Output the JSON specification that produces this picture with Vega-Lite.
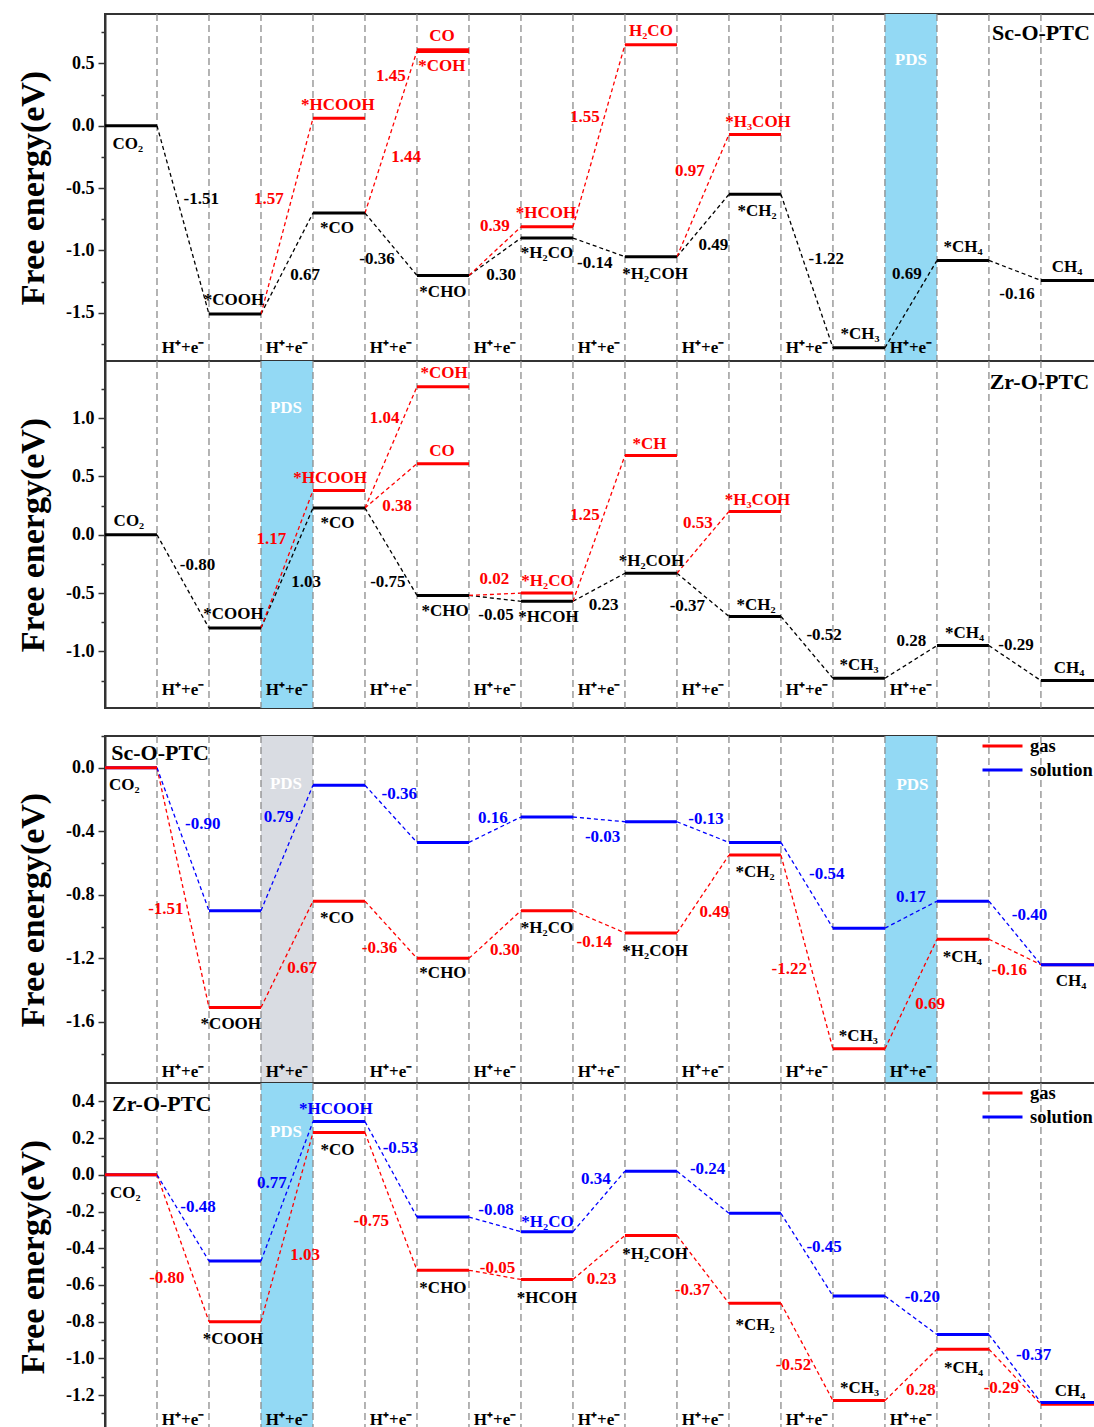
{
"$schema": "https://vega.github.io/schema/vega-lite/v6.json",
"background": "white",
"padding": {"left": 15, "top": 12, "right": 0, "bottom": 0},
"config": {
 "view": {"stroke": "#333333", "strokeWidth": 2},
 "axisY": {"title": "Free energy(eV)", "domainColor": "#333333", "domainWidth": 2, "tickColor": "#333333", "tickWidth": 1.5, "labelFont": "Liberation Serif", "labelFontSize": 18, "labelFontWeight": "bold", "labelColor": "#000000", "labelPadding": 4, "labelOverlap": false, "titleFont": "Liberation Serif", "titleFontSize": 34, "titleFontWeight": "bold", "titleColor": "#000000", "grid": false, "titleX": -62, "titleY": 173.5, "titleAngle": 270, "titleAlign": "center", "titleBaseline": "alphabetic"},
 "text": {"font": "Liberation Serif", "fontWeight": "bold", "fontSize": 17, "align": "center", "baseline": "middle", "color": "#000000"},
 "legend": {"labelFont": "Liberation Serif", "labelFontSize": 18.5, "labelFontWeight": "bold", "labelColor": "#000000", "symbolType": "stroke", "symbolSize": 1600, "symbolStrokeWidth": 3, "labelOffset": 6, "clipHeight": 20, "rowPadding": 4, "padding": 0, "orient": "none", "legendX": 876, "legendY": 0}
},
"datasets": {
 "grid": [{"g":1},{"g":2},{"g":3},{"g":4},{"g":5},{"g":6},{"g":7},{"g":8},{"g":9},{"g":10},{"g":11},{"g":12},{"g":13},{"g":14},{"g":15},{"g":16},{"g":17},{"g":18}],
 "hx": [{"x":1.5},{"x":3.5},{"x":5.5},{"x":7.5},{"x":9.5},{"x":11.5},{"x":13.5},{"x":15.5}],
 "bands": [
  {"p":1,"k":"blue","x0":15,"x1":16},
  {"p":2,"k":"blue","x0":3,"x1":4},
  {"p":3,"k":"grey","x0":3,"x1":4},
  {"p":3,"k":"blue","x0":15,"x1":16},
  {"p":4,"k":"blue","x0":3,"x1":4}
 ],
 "notes": [
  {"p":1,"k":"title","t":"Sc-O-PTC","x":18.0,"y":0.74},
  {"p":1,"k":"pds","t":"PDS","x":15.5,"y":0.53},
  {"p":2,"k":"title","t":"Zr-O-PTC","x":17.97,"y":1.314},
  {"p":2,"k":"pds","t":"PDS","x":3.48,"y":1.086},
  {"p":3,"k":"title","t":"Sc-O-PTC","x":1.06,"y":0.094},
  {"p":3,"k":"pds","t":"PDS","x":3.48,"y":-0.105},
  {"p":3,"k":"pds","t":"PDS","x":15.53,"y":-0.111},
  {"p":4,"k":"title","t":"Zr-O-PTC","x":1.09,"y":0.387},
  {"p":4,"k":"pds","t":"PDS","x":3.48,"y":0.234}
 ],
 "levels": [
  {"p":1,"s":"main","x0":0,"x1":1,"y":0},
  {"p":1,"s":"main","x0":2,"x1":3,"y":-1.51},
  {"p":1,"s":"main","x0":4,"x1":5,"y":-0.70},
  {"p":1,"s":"main","x0":6,"x1":7,"y":-1.20},
  {"p":1,"s":"main","x0":8,"x1":9,"y":-0.90},
  {"p":1,"s":"main","x0":10,"x1":11,"y":-1.05},
  {"p":1,"s":"main","x0":12,"x1":13,"y":-0.55},
  {"p":1,"s":"main","x0":14,"x1":15,"y":-1.78},
  {"p":1,"s":"main","x0":16,"x1":17,"y":-1.08},
  {"p":1,"s":"main","x0":18,"x1":19.04,"y":-1.24},
  {"p":1,"s":"alt","x0":4,"x1":5,"y":0.06},
  {"p":1,"s":"alt","x0":6,"x1":7,"y":0.61},
  {"p":1,"s":"alt","x0":6,"x1":7,"y":0.595},
  {"p":1,"s":"alt","x0":8,"x1":9,"y":-0.81},
  {"p":1,"s":"alt","x0":10,"x1":11,"y":0.65},
  {"p":1,"s":"alt","x0":12,"x1":13,"y":-0.07},
  {"p":2,"s":"main","x0":0,"x1":1,"y":0},
  {"p":2,"s":"main","x0":2,"x1":3,"y":-0.80},
  {"p":2,"s":"main","x0":4,"x1":5,"y":0.23},
  {"p":2,"s":"main","x0":6,"x1":7,"y":-0.52},
  {"p":2,"s":"main","x0":8,"x1":9,"y":-0.57},
  {"p":2,"s":"main","x0":10,"x1":11,"y":-0.33},
  {"p":2,"s":"main","x0":12,"x1":13,"y":-0.70},
  {"p":2,"s":"main","x0":14,"x1":15,"y":-1.23},
  {"p":2,"s":"main","x0":16,"x1":17,"y":-0.95},
  {"p":2,"s":"main","x0":18,"x1":19.04,"y":-1.25},
  {"p":2,"s":"alt","x0":4,"x1":5,"y":0.38},
  {"p":2,"s":"alt","x0":6,"x1":7,"y":1.27},
  {"p":2,"s":"alt","x0":6,"x1":7,"y":0.61},
  {"p":2,"s":"alt","x0":8,"x1":9,"y":-0.50},
  {"p":2,"s":"alt","x0":10,"x1":11,"y":0.68},
  {"p":2,"s":"alt","x0":12,"x1":13,"y":0.20},
  {"p":3,"s":"solution","x0":0,"x1":1,"y":0},
  {"p":3,"s":"gas","x0":0,"x1":1,"y":0},
  {"p":3,"s":"gas","x0":2,"x1":3,"y":-1.51},
  {"p":3,"s":"gas","x0":4,"x1":5,"y":-0.84},
  {"p":3,"s":"gas","x0":6,"x1":7,"y":-1.20},
  {"p":3,"s":"gas","x0":8,"x1":9,"y":-0.90},
  {"p":3,"s":"gas","x0":10,"x1":11,"y":-1.04},
  {"p":3,"s":"gas","x0":12,"x1":13,"y":-0.55},
  {"p":3,"s":"gas","x0":14,"x1":15,"y":-1.77},
  {"p":3,"s":"gas","x0":16,"x1":17,"y":-1.08},
  {"p":3,"s":"gas","x0":18,"x1":19.04,"y":-1.24},
  {"p":3,"s":"solution","x0":2,"x1":3,"y":-0.90},
  {"p":3,"s":"solution","x0":4,"x1":5,"y":-0.11},
  {"p":3,"s":"solution","x0":6,"x1":7,"y":-0.47},
  {"p":3,"s":"solution","x0":8,"x1":9,"y":-0.31},
  {"p":3,"s":"solution","x0":10,"x1":11,"y":-0.34},
  {"p":3,"s":"solution","x0":12,"x1":13,"y":-0.47},
  {"p":3,"s":"solution","x0":14,"x1":15,"y":-1.01},
  {"p":3,"s":"solution","x0":16,"x1":17,"y":-0.84},
  {"p":3,"s":"solution","x0":18,"x1":19.04,"y":-1.24},
  {"p":4,"s":"solution","x0":0,"x1":1,"y":0},
  {"p":4,"s":"gas","x0":0,"x1":1,"y":0},
  {"p":4,"s":"gas","x0":2,"x1":3,"y":-0.80},
  {"p":4,"s":"gas","x0":4,"x1":5,"y":0.23},
  {"p":4,"s":"gas","x0":6,"x1":7,"y":-0.52},
  {"p":4,"s":"gas","x0":8,"x1":9,"y":-0.57},
  {"p":4,"s":"gas","x0":10,"x1":11,"y":-0.33},
  {"p":4,"s":"gas","x0":12,"x1":13,"y":-0.70},
  {"p":4,"s":"gas","x0":14,"x1":15,"y":-1.23},
  {"p":4,"s":"gas","x0":16,"x1":17,"y":-0.95},
  {"p":4,"s":"gas","x0":18,"x1":19.04,"y":-1.25},
  {"p":4,"s":"solution","x0":2,"x1":3,"y":-0.47},
  {"p":4,"s":"solution","x0":4,"x1":5,"y":0.29},
  {"p":4,"s":"solution","x0":6,"x1":7,"y":-0.23},
  {"p":4,"s":"solution","x0":8,"x1":9,"y":-0.31},
  {"p":4,"s":"solution","x0":10,"x1":11,"y":0.02},
  {"p":4,"s":"solution","x0":12,"x1":13,"y":-0.21},
  {"p":4,"s":"solution","x0":14,"x1":15,"y":-0.66},
  {"p":4,"s":"solution","x0":16,"x1":17,"y":-0.87},
  {"p":4,"s":"solution","x0":18,"x1":19.04,"y":-1.24}
 ],
 "steps": [
  {"p":1,"s":"main","xa":1,"ya":0,"xb":2,"yb":-1.51},
  {"p":1,"s":"main","xa":3,"ya":-1.51,"xb":4,"yb":-0.70},
  {"p":1,"s":"main","xa":5,"ya":-0.70,"xb":6,"yb":-1.20},
  {"p":1,"s":"main","xa":7,"ya":-1.20,"xb":8,"yb":-0.90},
  {"p":1,"s":"main","xa":9,"ya":-0.90,"xb":10,"yb":-1.05},
  {"p":1,"s":"main","xa":11,"ya":-1.05,"xb":12,"yb":-0.55},
  {"p":1,"s":"main","xa":13,"ya":-0.55,"xb":14,"yb":-1.78},
  {"p":1,"s":"main","xa":15,"ya":-1.78,"xb":16,"yb":-1.08},
  {"p":1,"s":"main","xa":17,"ya":-1.08,"xb":18,"yb":-1.24},
  {"p":1,"s":"alt","xa":3,"ya":-1.51,"xb":4,"yb":0.06},
  {"p":1,"s":"alt","xa":5,"ya":-0.70,"xb":6,"yb":0.60},
  {"p":1,"s":"alt","xa":7,"ya":-1.20,"xb":8,"yb":-0.81},
  {"p":1,"s":"alt","xa":9,"ya":-0.81,"xb":10,"yb":0.65},
  {"p":1,"s":"alt","xa":11,"ya":-1.05,"xb":12,"yb":-0.07},
  {"p":2,"s":"main","xa":1,"ya":0,"xb":2,"yb":-0.80},
  {"p":2,"s":"main","xa":3,"ya":-0.80,"xb":4,"yb":0.23},
  {"p":2,"s":"main","xa":5,"ya":0.23,"xb":6,"yb":-0.52},
  {"p":2,"s":"main","xa":7,"ya":-0.52,"xb":8,"yb":-0.57},
  {"p":2,"s":"main","xa":9,"ya":-0.57,"xb":10,"yb":-0.33},
  {"p":2,"s":"main","xa":11,"ya":-0.33,"xb":12,"yb":-0.70},
  {"p":2,"s":"main","xa":13,"ya":-0.70,"xb":14,"yb":-1.23},
  {"p":2,"s":"main","xa":15,"ya":-1.23,"xb":16,"yb":-0.95},
  {"p":2,"s":"main","xa":17,"ya":-0.95,"xb":18,"yb":-1.25},
  {"p":2,"s":"alt","xa":3,"ya":-0.80,"xb":4,"yb":0.38},
  {"p":2,"s":"alt","xa":5,"ya":0.23,"xb":6,"yb":1.27},
  {"p":2,"s":"alt","xa":5,"ya":0.23,"xb":6,"yb":0.61},
  {"p":2,"s":"alt","xa":7,"ya":-0.52,"xb":8,"yb":-0.50},
  {"p":2,"s":"alt","xa":9,"ya":-0.57,"xb":10,"yb":0.68},
  {"p":2,"s":"alt","xa":11,"ya":-0.33,"xb":12,"yb":0.20},
  {"p":3,"s":"gas","xa":1,"ya":0,"xb":2,"yb":-1.51},
  {"p":3,"s":"gas","xa":3,"ya":-1.51,"xb":4,"yb":-0.84},
  {"p":3,"s":"gas","xa":5,"ya":-0.84,"xb":6,"yb":-1.20},
  {"p":3,"s":"gas","xa":7,"ya":-1.20,"xb":8,"yb":-0.90},
  {"p":3,"s":"gas","xa":9,"ya":-0.90,"xb":10,"yb":-1.04},
  {"p":3,"s":"gas","xa":11,"ya":-1.04,"xb":12,"yb":-0.55},
  {"p":3,"s":"gas","xa":13,"ya":-0.55,"xb":14,"yb":-1.77},
  {"p":3,"s":"gas","xa":15,"ya":-1.77,"xb":16,"yb":-1.08},
  {"p":3,"s":"gas","xa":17,"ya":-1.08,"xb":18,"yb":-1.24},
  {"p":3,"s":"solution","xa":1,"ya":0,"xb":2,"yb":-0.90},
  {"p":3,"s":"solution","xa":3,"ya":-0.90,"xb":4,"yb":-0.11},
  {"p":3,"s":"solution","xa":5,"ya":-0.11,"xb":6,"yb":-0.47},
  {"p":3,"s":"solution","xa":7,"ya":-0.47,"xb":8,"yb":-0.31},
  {"p":3,"s":"solution","xa":9,"ya":-0.31,"xb":10,"yb":-0.34},
  {"p":3,"s":"solution","xa":11,"ya":-0.34,"xb":12,"yb":-0.47},
  {"p":3,"s":"solution","xa":13,"ya":-0.47,"xb":14,"yb":-1.01},
  {"p":3,"s":"solution","xa":15,"ya":-1.01,"xb":16,"yb":-0.84},
  {"p":3,"s":"solution","xa":17,"ya":-0.84,"xb":18,"yb":-1.24},
  {"p":4,"s":"gas","xa":1,"ya":0,"xb":2,"yb":-0.80},
  {"p":4,"s":"gas","xa":3,"ya":-0.80,"xb":4,"yb":0.23},
  {"p":4,"s":"gas","xa":5,"ya":0.23,"xb":6,"yb":-0.52},
  {"p":4,"s":"gas","xa":7,"ya":-0.52,"xb":8,"yb":-0.57},
  {"p":4,"s":"gas","xa":9,"ya":-0.57,"xb":10,"yb":-0.33},
  {"p":4,"s":"gas","xa":11,"ya":-0.33,"xb":12,"yb":-0.70},
  {"p":4,"s":"gas","xa":13,"ya":-0.70,"xb":14,"yb":-1.23},
  {"p":4,"s":"gas","xa":15,"ya":-1.23,"xb":16,"yb":-0.95},
  {"p":4,"s":"gas","xa":17,"ya":-0.95,"xb":18,"yb":-1.25},
  {"p":4,"s":"solution","xa":1,"ya":0,"xb":2,"yb":-0.47},
  {"p":4,"s":"solution","xa":3,"ya":-0.47,"xb":4,"yb":0.29},
  {"p":4,"s":"solution","xa":5,"ya":0.29,"xb":6,"yb":-0.23},
  {"p":4,"s":"solution","xa":7,"ya":-0.23,"xb":8,"yb":-0.31},
  {"p":4,"s":"solution","xa":9,"ya":-0.31,"xb":10,"yb":0.02},
  {"p":4,"s":"solution","xa":11,"ya":0.02,"xb":12,"yb":-0.21},
  {"p":4,"s":"solution","xa":13,"ya":-0.21,"xb":14,"yb":-0.66},
  {"p":4,"s":"solution","xa":15,"ya":-0.66,"xb":16,"yb":-0.87},
  {"p":4,"s":"solution","xa":17,"ya":-0.87,"xb":18,"yb":-1.24}
 ],
 "labels": [
  {"p":1,"s":"main","t":"CO₂","x":0.44,"y":-0.145},
  {"p":1,"s":"main","t":"-1.51","x":1.85,"y":-0.59},
  {"p":1,"s":"alt","t":"1.57","x":3.15,"y":-0.59},
  {"p":1,"s":"main","t":"0.67","x":3.85,"y":-1.2},
  {"p":1,"s":"main","t":"*COOH","x":2.48,"y":-1.4},
  {"p":1,"s":"alt","t":"*HCOOH","x":4.48,"y":0.17},
  {"p":1,"s":"main","t":"*CO","x":4.46,"y":-0.82},
  {"p":1,"s":"alt","t":"1.45","x":5.5,"y":0.395},
  {"p":1,"s":"alt","t":"1.44","x":5.79,"y":-0.25},
  {"p":1,"s":"main","t":"-0.36","x":5.23,"y":-1.07},
  {"p":1,"s":"alt","t":"CO","x":6.48,"y":0.72},
  {"p":1,"s":"alt","t":"*COH","x":6.48,"y":0.476},
  {"p":1,"s":"main","t":"*CHO","x":6.5,"y":-1.33},
  {"p":1,"s":"alt","t":"0.39","x":7.5,"y":-0.8},
  {"p":1,"s":"main","t":"0.30","x":7.62,"y":-1.2},
  {"p":1,"s":"alt","t":"*HCOH","x":8.48,"y":-0.7},
  {"p":1,"s":"main","t":"*H₂CO","x":8.5,"y":-1.02},
  {"p":1,"s":"alt","t":"1.55","x":9.23,"y":0.07},
  {"p":1,"s":"main","t":"-0.14","x":9.42,"y":-1.1},
  {"p":1,"s":"alt","t":"H₂CO","x":10.5,"y":0.76},
  {"p":1,"s":"main","t":"*H₂COH","x":10.58,"y":-1.185},
  {"p":1,"s":"alt","t":"0.97","x":11.25,"y":-0.36},
  {"p":1,"s":"main","t":"0.49","x":11.7,"y":-0.96},
  {"p":1,"s":"alt","t":"*H₃COH","x":12.56,"y":0.03},
  {"p":1,"s":"main","t":"*CH₂","x":12.54,"y":-0.68},
  {"p":1,"s":"main","t":"-1.22","x":13.87,"y":-1.065},
  {"p":1,"s":"main","t":"*CH₃","x":14.52,"y":-1.67},
  {"p":1,"s":"main","t":"0.69","x":15.42,"y":-1.19},
  {"p":1,"s":"main","t":"*CH₄","x":16.5,"y":-0.97},
  {"p":1,"s":"main","t":"-0.16","x":17.54,"y":-1.35},
  {"p":1,"s":"main","t":"CH₄","x":18.5,"y":-1.13},
  {"p":2,"s":"main","t":"CO₂","x":0.46,"y":0.115},
  {"p":2,"s":"main","t":"-0.80","x":1.78,"y":-0.257},
  {"p":2,"s":"main","t":"*COOH","x":2.47,"y":-0.68},
  {"p":2,"s":"alt","t":"1.17","x":3.2,"y":-0.04},
  {"p":2,"s":"main","t":"1.03","x":3.87,"y":-0.405},
  {"p":2,"s":"alt","t":"*HCOOH","x":4.33,"y":0.486},
  {"p":2,"s":"main","t":"*CO","x":4.47,"y":0.098},
  {"p":2,"s":"alt","t":"1.04","x":5.38,"y":1.0},
  {"p":2,"s":"alt","t":"0.38","x":5.62,"y":0.243},
  {"p":2,"s":"main","t":"-0.75","x":5.44,"y":-0.405},
  {"p":2,"s":"alt","t":"*COH","x":6.52,"y":1.386},
  {"p":2,"s":"alt","t":"CO","x":6.48,"y":0.717},
  {"p":2,"s":"main","t":"*CHO","x":6.54,"y":-0.655},
  {"p":2,"s":"alt","t":"0.02","x":7.49,"y":-0.38},
  {"p":2,"s":"main","t":"-0.05","x":7.52,"y":-0.686},
  {"p":2,"s":"alt","t":"*H₂CO","x":8.51,"y":-0.394},
  {"p":2,"s":"main","t":"*HCOH","x":8.53,"y":-0.708},
  {"p":2,"s":"alt","t":"1.25","x":9.23,"y":0.166},
  {"p":2,"s":"main","t":"0.23","x":9.59,"y":-0.6},
  {"p":2,"s":"alt","t":"*CH","x":10.47,"y":0.777},
  {"p":2,"s":"main","t":"*H₂COH","x":10.51,"y":-0.223},
  {"p":2,"s":"alt","t":"0.53","x":11.4,"y":0.1},
  {"p":2,"s":"main","t":"-0.37","x":11.2,"y":-0.614},
  {"p":2,"s":"alt","t":"*H₃COH","x":12.55,"y":0.3},
  {"p":2,"s":"main","t":"*CH₂","x":12.52,"y":-0.605},
  {"p":2,"s":"main","t":"-0.52","x":13.83,"y":-0.857},
  {"p":2,"s":"main","t":"*CH₃","x":14.5,"y":-1.114},
  {"p":2,"s":"main","t":"0.28","x":15.51,"y":-0.914},
  {"p":2,"s":"main","t":"*CH₄","x":16.53,"y":-0.842},
  {"p":2,"s":"main","t":"-0.29","x":17.52,"y":-0.948},
  {"p":2,"s":"main","t":"CH₄","x":18.54,"y":-1.142},
  {"p":3,"s":"none","t":"CO₂","x":0.37,"y":-0.11},
  {"p":3,"s":"solution","t":"-0.90","x":1.88,"y":-0.357},
  {"p":3,"s":"gas","t":"-1.51","x":1.17,"y":-0.89},
  {"p":3,"s":"none","t":"*COOH","x":2.42,"y":-1.614},
  {"p":3,"s":"solution","t":"0.79","x":3.34,"y":-0.308},
  {"p":3,"s":"gas","t":"0.67","x":3.79,"y":-1.264},
  {"p":3,"s":"none","t":"*CO","x":4.46,"y":-0.948},
  {"p":3,"s":"solution","t":"-0.36","x":5.66,"y":-0.168},
  {"p":3,"s":"gas","t":"-0.36","x":5.28,"y":-1.137},
  {"p":3,"s":"none","t":"*CHO","x":6.5,"y":-1.294},
  {"p":3,"s":"solution","t":"0.16","x":7.46,"y":-0.314},
  {"p":3,"s":"gas","t":"0.30","x":7.69,"y":-1.147},
  {"p":3,"s":"none","t":"*H₂CO","x":8.5,"y":-1.006},
  {"p":3,"s":"solution","t":"-0.03","x":9.57,"y":-0.434},
  {"p":3,"s":"gas","t":"-0.14","x":9.41,"y":-1.097},
  {"p":3,"s":"none","t":"*H₂COH","x":10.58,"y":-1.153},
  {"p":3,"s":"solution","t":"-0.13","x":11.56,"y":-0.321},
  {"p":3,"s":"gas","t":"0.49","x":11.72,"y":-0.908},
  {"p":3,"s":"none","t":"*CH₂","x":12.5,"y":-0.657},
  {"p":3,"s":"solution","t":"-0.54","x":13.88,"y":-0.671},
  {"p":3,"s":"gas","t":"-1.22","x":13.16,"y":-1.269},
  {"p":3,"s":"none","t":"*CH₃","x":14.49,"y":-1.692},
  {"p":3,"s":"solution","t":"0.17","x":15.5,"y":-0.811},
  {"p":3,"s":"gas","t":"0.69","x":15.87,"y":-1.489},
  {"p":3,"s":"none","t":"*CH₄","x":16.49,"y":-1.189},
  {"p":3,"s":"solution","t":"-0.40","x":17.78,"y":-0.929},
  {"p":3,"s":"gas","t":"-0.16","x":17.39,"y":-1.273},
  {"p":3,"s":"none","t":"CH₄","x":18.58,"y":-1.342},
  {"p":4,"s":"none","t":"CO₂","x":0.39,"y":-0.1},
  {"p":4,"s":"solution","t":"-0.48","x":1.79,"y":-0.174},
  {"p":4,"s":"gas","t":"-0.80","x":1.19,"y":-0.56},
  {"p":4,"s":"none","t":"*COOH","x":2.46,"y":-0.895},
  {"p":4,"s":"solution","t":"0.77","x":3.21,"y":-0.042},
  {"p":4,"s":"gas","t":"1.03","x":3.85,"y":-0.437},
  {"p":4,"s":"solution","t":"*HCOOH","x":4.44,"y":0.356},
  {"p":4,"s":"none","t":"*CO","x":4.47,"y":0.134},
  {"p":4,"s":"solution","t":"-0.53","x":5.68,"y":0.147},
  {"p":4,"s":"gas","t":"-0.75","x":5.12,"y":-0.252},
  {"p":4,"s":"none","t":"*CHO","x":6.5,"y":-0.618},
  {"p":4,"s":"solution","t":"-0.08","x":7.52,"y":-0.192},
  {"p":4,"s":"gas","t":"-0.05","x":7.55,"y":-0.509},
  {"p":4,"s":"solution","t":"*H₂CO","x":8.51,"y":-0.259},
  {"p":4,"s":"none","t":"*HCOH","x":8.5,"y":-0.672},
  {"p":4,"s":"solution","t":"0.34","x":9.44,"y":-0.024},
  {"p":4,"s":"gas","t":"0.23","x":9.55,"y":-0.567},
  {"p":4,"s":"none","t":"*H₂COH","x":10.58,"y":-0.433},
  {"p":4,"s":"solution","t":"-0.24","x":11.59,"y":0.034},
  {"p":4,"s":"gas","t":"-0.37","x":11.3,"y":-0.627},
  {"p":4,"s":"none","t":"*CH₂","x":12.5,"y":-0.817},
  {"p":4,"s":"solution","t":"-0.45","x":13.83,"y":-0.391},
  {"p":4,"s":"gas","t":"-0.52","x":13.24,"y":-1.037},
  {"p":4,"s":"none","t":"*CH₃","x":14.51,"y":-1.161},
  {"p":4,"s":"solution","t":"-0.20","x":15.72,"y":-0.668},
  {"p":4,"s":"gas","t":"0.28","x":15.69,"y":-1.17},
  {"p":4,"s":"none","t":"*CH₄","x":16.51,"y":-1.052},
  {"p":4,"s":"solution","t":"-0.37","x":17.86,"y":-0.983},
  {"p":4,"s":"gas","t":"-0.29","x":17.24,"y":-1.161},
  {"p":4,"s":"none","t":"CH₄","x":18.56,"y":-1.179}
 ]
},
"spacing": 16,
"resolve": {"scale": {"color": "independent", "fill": "independent", "stroke": "independent"}},
"vconcat": [
 {"spacing": 0, "bounds": "flush",
  "resolve": {"scale": {"color": "independent", "fill": "independent", "stroke": "independent"}},
  "vconcat": [
  {"width": 990, "height": 347,
   "layer": [
    {"data": {"name": "bands"}, "transform": [{"filter": "datum.p==1"}], "mark": "rect",
     "encoding": {"x": {"field": "x0", "type": "quantitative", "scale": {"domain": [0, 19.04], "nice": false, "zero": false}, "axis": null}, "x2": {"field": "x1"},
      "color": {"field": "k", "type": "nominal", "scale": {"domain": ["blue", "grey"], "range": ["#93d9f4", "#d9dce2"]}, "legend": null}}},
    {"data": {"name": "grid"}, "mark": {"type": "rule", "color": "#8c8c8c", "strokeDash": [7, 4], "strokeWidth": 1.3},
     "encoding": {"x": {"field": "g", "type": "quantitative", "scale": {"domain": [0, 19.04], "nice": false, "zero": false}, "axis": null}}},
    {"data": {"name": "steps"}, "transform": [{"filter": "datum.p==1"}], "mark": {"type": "rule", "strokeDash": [4, 3], "strokeWidth": 1.3},
     "encoding": {"x": {"field": "xa", "type": "quantitative", "scale": {"domain": [0, 19.04], "nice": false, "zero": false}, "axis": null}, "x2": {"field": "xb"},
      "y": {"field": "ya", "type": "quantitative", "scale": {"domain": [-1.886, 0.896], "nice": false, "zero": false},
       "axis": {"title": "Free energy(eV)", "values": [-1.75, -1.5, -1.25, -1, -0.75, -0.5, -0.25, 0, 0.25, 0.5, 0.75],
        "labelExpr": "abs(datum.value*2-round(datum.value*2))<0.01 ? replace(format(datum.value,'.1f'),'−','-') : ''",
        "tickSize": {"condition": {"test": "abs(datum.value*2-round(datum.value*2))<0.01", "value": 7}, "value": 4}}},
      "y2": {"field": "yb"},
      "stroke": {"field": "s", "type": "nominal", "scale": {"domain": ["main", "alt"], "range": ["#000000", "#ff0000"]}, "legend": null}}},
    {"data": {"name": "levels"}, "transform": [{"filter": "datum.p==1"}], "mark": {"type": "rule", "strokeWidth": 3},
     "encoding": {"x": {"field": "x0", "type": "quantitative", "scale": {"domain": [0, 19.04], "nice": false, "zero": false}, "axis": null}, "x2": {"field": "x1"},
      "y": {"field": "y", "type": "quantitative", "scale": {"domain": [-1.886, 0.896], "nice": false, "zero": false},
       "axis": {"title": "Free energy(eV)", "values": [-1.75, -1.5, -1.25, -1, -0.75, -0.5, -0.25, 0, 0.25, 0.5, 0.75],
        "labelExpr": "abs(datum.value*2-round(datum.value*2))<0.01 ? replace(format(datum.value,'.1f'),'−','-') : ''",
        "tickSize": {"condition": {"test": "abs(datum.value*2-round(datum.value*2))<0.01", "value": 7}, "value": 4}}},
      "stroke": {"field": "s", "type": "nominal", "scale": {"domain": ["main", "alt"], "range": ["#000000", "#ff0000"]}, "legend": null}}},
    {"data": {"name": "labels"}, "transform": [{"filter": "datum.p==1"}], "mark": "text",
     "encoding": {"x": {"field": "x", "type": "quantitative", "scale": {"domain": [0, 19.04], "nice": false, "zero": false}, "axis": null},
      "y": {"field": "y", "type": "quantitative", "scale": {"domain": [-1.886, 0.896], "nice": false, "zero": false},
       "axis": {"title": "Free energy(eV)", "values": [-1.75, -1.5, -1.25, -1, -0.75, -0.5, -0.25, 0, 0.25, 0.5, 0.75],
        "labelExpr": "abs(datum.value*2-round(datum.value*2))<0.01 ? replace(format(datum.value,'.1f'),'−','-') : ''",
        "tickSize": {"condition": {"test": "abs(datum.value*2-round(datum.value*2))<0.01", "value": 7}, "value": 4}}},
      "text": {"field": "t"},
      "fill": {"field": "s", "type": "nominal", "scale": {"domain": ["main", "alt"], "range": ["#000000", "#ff0000"]}, "legend": null}}},
    {"data": {"name": "hx"}, "mark": "text",
     "encoding": {"x": {"field": "x", "type": "quantitative", "scale": {"domain": [0, 19.04], "nice": false, "zero": false}, "axis": null},
      "y": {"datum": -1.78, "type": "quantitative", "scale": {"domain": [-1.886, 0.896], "nice": false, "zero": false},
       "axis": {"title": "Free energy(eV)", "values": [-1.75, -1.5, -1.25, -1, -0.75, -0.5, -0.25, 0, 0.25, 0.5, 0.75],
        "labelExpr": "abs(datum.value*2-round(datum.value*2))<0.01 ? replace(format(datum.value,'.1f'),'−','-') : ''",
        "tickSize": {"condition": {"test": "abs(datum.value*2-round(datum.value*2))<0.01", "value": 7}, "value": 4}}},
      "text": {"value": "H⁺+e⁻"}}},
    {"data": {"name": "notes"}, "transform": [{"filter": "datum.p==1 && datum.k=='title'"}], "mark": {"type": "text", "fontSize": 22},
     "encoding": {"x": {"field": "x", "type": "quantitative", "scale": {"domain": [0, 19.04], "nice": false, "zero": false}, "axis": null},
      "y": {"field": "y", "type": "quantitative", "scale": {"domain": [-1.886, 0.896], "nice": false, "zero": false},
       "axis": {"title": "Free energy(eV)", "values": [-1.75, -1.5, -1.25, -1, -0.75, -0.5, -0.25, 0, 0.25, 0.5, 0.75],
        "labelExpr": "abs(datum.value*2-round(datum.value*2))<0.01 ? replace(format(datum.value,'.1f'),'−','-') : ''",
        "tickSize": {"condition": {"test": "abs(datum.value*2-round(datum.value*2))<0.01", "value": 7}, "value": 4}}},
      "text": {"field": "t"}}},
    {"data": {"name": "notes"}, "transform": [{"filter": "datum.p==1 && datum.k=='pds'"}], "mark": {"type": "text", "color": "#ffffff"},
     "encoding": {"x": {"field": "x", "type": "quantitative", "scale": {"domain": [0, 19.04], "nice": false, "zero": false}, "axis": null},
      "y": {"field": "y", "type": "quantitative", "scale": {"domain": [-1.886, 0.896], "nice": false, "zero": false},
       "axis": {"title": "Free energy(eV)", "values": [-1.75, -1.5, -1.25, -1, -0.75, -0.5, -0.25, 0, 0.25, 0.5, 0.75],
        "labelExpr": "abs(datum.value*2-round(datum.value*2))<0.01 ? replace(format(datum.value,'.1f'),'−','-') : ''",
        "tickSize": {"condition": {"test": "abs(datum.value*2-round(datum.value*2))<0.01", "value": 7}, "value": 4}}},
      "text": {"field": "t"}}}
   ]},
  {"width": 990, "height": 347,
   "layer": [
    {"data": {"name": "bands"}, "transform": [{"filter": "datum.p==2"}], "mark": "rect",
     "encoding": {"x": {"field": "x0", "type": "quantitative", "scale": {"domain": [0, 19.04], "nice": false, "zero": false}, "axis": null}, "x2": {"field": "x1"},
      "color": {"field": "k", "type": "nominal", "scale": {"domain": ["blue", "grey"], "range": ["#93d9f4", "#d9dce2"]}, "legend": null}}},
    {"data": {"name": "grid"}, "mark": {"type": "rule", "color": "#8c8c8c", "strokeDash": [7, 4], "strokeWidth": 1.3},
     "encoding": {"x": {"field": "g", "type": "quantitative", "scale": {"domain": [0, 19.04], "nice": false, "zero": false}, "axis": null}}},
    {"data": {"name": "steps"}, "transform": [{"filter": "datum.p==2"}], "mark": {"type": "rule", "strokeDash": [4, 3], "strokeWidth": 1.3},
     "encoding": {"x": {"field": "xa", "type": "quantitative", "scale": {"domain": [0, 19.04], "nice": false, "zero": false}, "axis": null}, "x2": {"field": "xb"},
      "y": {"field": "ya", "type": "quantitative", "scale": {"domain": [-1.485, 1.49], "nice": false, "zero": false},
       "axis": {"title": "Free energy(eV)", "values": [-1.25, -1, -0.75, -0.5, -0.25, 0, 0.25, 0.5, 0.75, 1, 1.25],
        "labelExpr": "abs(datum.value*2-round(datum.value*2))<0.01 ? replace(format(datum.value,'.1f'),'−','-') : ''",
        "tickSize": {"condition": {"test": "abs(datum.value*2-round(datum.value*2))<0.01", "value": 7}, "value": 4}}},
      "y2": {"field": "yb"},
      "stroke": {"field": "s", "type": "nominal", "scale": {"domain": ["main", "alt"], "range": ["#000000", "#ff0000"]}, "legend": null}}},
    {"data": {"name": "levels"}, "transform": [{"filter": "datum.p==2"}], "mark": {"type": "rule", "strokeWidth": 3},
     "encoding": {"x": {"field": "x0", "type": "quantitative", "scale": {"domain": [0, 19.04], "nice": false, "zero": false}, "axis": null}, "x2": {"field": "x1"},
      "y": {"field": "y", "type": "quantitative", "scale": {"domain": [-1.485, 1.49], "nice": false, "zero": false},
       "axis": {"title": "Free energy(eV)", "values": [-1.25, -1, -0.75, -0.5, -0.25, 0, 0.25, 0.5, 0.75, 1, 1.25],
        "labelExpr": "abs(datum.value*2-round(datum.value*2))<0.01 ? replace(format(datum.value,'.1f'),'−','-') : ''",
        "tickSize": {"condition": {"test": "abs(datum.value*2-round(datum.value*2))<0.01", "value": 7}, "value": 4}}},
      "stroke": {"field": "s", "type": "nominal", "scale": {"domain": ["main", "alt"], "range": ["#000000", "#ff0000"]}, "legend": null}}},
    {"data": {"name": "labels"}, "transform": [{"filter": "datum.p==2"}], "mark": "text",
     "encoding": {"x": {"field": "x", "type": "quantitative", "scale": {"domain": [0, 19.04], "nice": false, "zero": false}, "axis": null},
      "y": {"field": "y", "type": "quantitative", "scale": {"domain": [-1.485, 1.49], "nice": false, "zero": false},
       "axis": {"title": "Free energy(eV)", "values": [-1.25, -1, -0.75, -0.5, -0.25, 0, 0.25, 0.5, 0.75, 1, 1.25],
        "labelExpr": "abs(datum.value*2-round(datum.value*2))<0.01 ? replace(format(datum.value,'.1f'),'−','-') : ''",
        "tickSize": {"condition": {"test": "abs(datum.value*2-round(datum.value*2))<0.01", "value": 7}, "value": 4}}},
      "text": {"field": "t"},
      "fill": {"field": "s", "type": "nominal", "scale": {"domain": ["main", "alt"], "range": ["#000000", "#ff0000"]}, "legend": null}}},
    {"data": {"name": "hx"}, "mark": "text",
     "encoding": {"x": {"field": "x", "type": "quantitative", "scale": {"domain": [0, 19.04], "nice": false, "zero": false}, "axis": null},
      "y": {"datum": -1.328, "type": "quantitative", "scale": {"domain": [-1.485, 1.49], "nice": false, "zero": false},
       "axis": {"title": "Free energy(eV)", "values": [-1.25, -1, -0.75, -0.5, -0.25, 0, 0.25, 0.5, 0.75, 1, 1.25],
        "labelExpr": "abs(datum.value*2-round(datum.value*2))<0.01 ? replace(format(datum.value,'.1f'),'−','-') : ''",
        "tickSize": {"condition": {"test": "abs(datum.value*2-round(datum.value*2))<0.01", "value": 7}, "value": 4}}},
      "text": {"value": "H⁺+e⁻"}}},
    {"data": {"name": "notes"}, "transform": [{"filter": "datum.p==2 && datum.k=='title'"}], "mark": {"type": "text", "fontSize": 22},
     "encoding": {"x": {"field": "x", "type": "quantitative", "scale": {"domain": [0, 19.04], "nice": false, "zero": false}, "axis": null},
      "y": {"field": "y", "type": "quantitative", "scale": {"domain": [-1.485, 1.49], "nice": false, "zero": false},
       "axis": {"title": "Free energy(eV)", "values": [-1.25, -1, -0.75, -0.5, -0.25, 0, 0.25, 0.5, 0.75, 1, 1.25],
        "labelExpr": "abs(datum.value*2-round(datum.value*2))<0.01 ? replace(format(datum.value,'.1f'),'−','-') : ''",
        "tickSize": {"condition": {"test": "abs(datum.value*2-round(datum.value*2))<0.01", "value": 7}, "value": 4}}},
      "text": {"field": "t"}}},
    {"data": {"name": "notes"}, "transform": [{"filter": "datum.p==2 && datum.k=='pds'"}], "mark": {"type": "text", "color": "#ffffff"},
     "encoding": {"x": {"field": "x", "type": "quantitative", "scale": {"domain": [0, 19.04], "nice": false, "zero": false}, "axis": null},
      "y": {"field": "y", "type": "quantitative", "scale": {"domain": [-1.485, 1.49], "nice": false, "zero": false},
       "axis": {"title": "Free energy(eV)", "values": [-1.25, -1, -0.75, -0.5, -0.25, 0, 0.25, 0.5, 0.75, 1, 1.25],
        "labelExpr": "abs(datum.value*2-round(datum.value*2))<0.01 ? replace(format(datum.value,'.1f'),'−','-') : ''",
        "tickSize": {"condition": {"test": "abs(datum.value*2-round(datum.value*2))<0.01", "value": 7}, "value": 4}}},
      "text": {"field": "t"}}}
   ]}
 ]},
 {"spacing": 0, "bounds": "flush",
  "resolve": {"scale": {"color": "independent", "fill": "independent", "stroke": "independent"}},
  "vconcat": [
  {"width": 990, "height": 347,
   "layer": [
    {"data": {"name": "bands"}, "transform": [{"filter": "datum.p==3"}], "mark": "rect",
     "encoding": {"x": {"field": "x0", "type": "quantitative", "scale": {"domain": [0, 19.04], "nice": false, "zero": false}, "axis": null}, "x2": {"field": "x1"},
      "color": {"field": "k", "type": "nominal", "scale": {"domain": ["blue", "grey"], "range": ["#93d9f4", "#d9dce2"]}, "legend": null}}},
    {"data": {"name": "grid"}, "mark": {"type": "rule", "color": "#8c8c8c", "strokeDash": [7, 4], "strokeWidth": 1.3},
     "encoding": {"x": {"field": "g", "type": "quantitative", "scale": {"domain": [0, 19.04], "nice": false, "zero": false}, "axis": null}}},
    {"data": {"name": "steps"}, "transform": [{"filter": "datum.p==3"}], "mark": {"type": "rule", "strokeDash": [4, 3], "strokeWidth": 1.3},
     "encoding": {"x": {"field": "xa", "type": "quantitative", "scale": {"domain": [0, 19.04], "nice": false, "zero": false}, "axis": null}, "x2": {"field": "xb"},
      "y": {"field": "ya", "type": "quantitative", "scale": {"domain": [-1.985, 0.2], "nice": false, "zero": false},
       "axis": {"title": "Free energy(eV)", "values": [-1.8, -1.6, -1.4, -1.2, -1, -0.8, -0.6, -0.4, -0.2, 0, 0.2],
        "labelExpr": "abs(datum.value*2.5-round(datum.value*2.5))<0.01 ? replace(format(datum.value,'.1f'),'−','-') : ''",
        "tickSize": {"condition": {"test": "abs(datum.value*2.5-round(datum.value*2.5))<0.01", "value": 7}, "value": 4}}},
      "y2": {"field": "yb"},
      "stroke": {"field": "s", "type": "nominal", "scale": {"domain": ["gas", "solution", "none"], "range": ["#ff0000", "#0000ff", "#000000"]}, "legend": {"values": ["gas", "solution"], "title": null}}}},
    {"data": {"name": "levels"}, "transform": [{"filter": "datum.p==3"}], "mark": {"type": "rule", "strokeWidth": 3},
     "encoding": {"x": {"field": "x0", "type": "quantitative", "scale": {"domain": [0, 19.04], "nice": false, "zero": false}, "axis": null}, "x2": {"field": "x1"},
      "y": {"field": "y", "type": "quantitative", "scale": {"domain": [-1.985, 0.2], "nice": false, "zero": false},
       "axis": {"title": "Free energy(eV)", "values": [-1.8, -1.6, -1.4, -1.2, -1, -0.8, -0.6, -0.4, -0.2, 0, 0.2],
        "labelExpr": "abs(datum.value*2.5-round(datum.value*2.5))<0.01 ? replace(format(datum.value,'.1f'),'−','-') : ''",
        "tickSize": {"condition": {"test": "abs(datum.value*2.5-round(datum.value*2.5))<0.01", "value": 7}, "value": 4}}},
      "stroke": {"field": "s", "type": "nominal", "scale": {"domain": ["gas", "solution", "none"], "range": ["#ff0000", "#0000ff", "#000000"]}, "legend": {"values": ["gas", "solution"], "title": null}}}},
    {"data": {"name": "labels"}, "transform": [{"filter": "datum.p==3"}], "mark": "text",
     "encoding": {"x": {"field": "x", "type": "quantitative", "scale": {"domain": [0, 19.04], "nice": false, "zero": false}, "axis": null},
      "y": {"field": "y", "type": "quantitative", "scale": {"domain": [-1.985, 0.2], "nice": false, "zero": false},
       "axis": {"title": "Free energy(eV)", "values": [-1.8, -1.6, -1.4, -1.2, -1, -0.8, -0.6, -0.4, -0.2, 0, 0.2],
        "labelExpr": "abs(datum.value*2.5-round(datum.value*2.5))<0.01 ? replace(format(datum.value,'.1f'),'−','-') : ''",
        "tickSize": {"condition": {"test": "abs(datum.value*2.5-round(datum.value*2.5))<0.01", "value": 7}, "value": 4}}},
      "text": {"field": "t"},
      "fill": {"field": "s", "type": "nominal", "scale": {"domain": ["gas", "solution", "none"], "range": ["#ff0000", "#0000ff", "#000000"]}, "legend": null}}},
    {"data": {"name": "hx"}, "mark": "text",
     "encoding": {"x": {"field": "x", "type": "quantitative", "scale": {"domain": [0, 19.04], "nice": false, "zero": false}, "axis": null},
      "y": {"datum": -1.918, "type": "quantitative", "scale": {"domain": [-1.985, 0.2], "nice": false, "zero": false},
       "axis": {"title": "Free energy(eV)", "values": [-1.8, -1.6, -1.4, -1.2, -1, -0.8, -0.6, -0.4, -0.2, 0, 0.2],
        "labelExpr": "abs(datum.value*2.5-round(datum.value*2.5))<0.01 ? replace(format(datum.value,'.1f'),'−','-') : ''",
        "tickSize": {"condition": {"test": "abs(datum.value*2.5-round(datum.value*2.5))<0.01", "value": 7}, "value": 4}}},
      "text": {"value": "H⁺+e⁻"}}},
    {"data": {"name": "notes"}, "transform": [{"filter": "datum.p==3 && datum.k=='title'"}], "mark": {"type": "text", "fontSize": 22},
     "encoding": {"x": {"field": "x", "type": "quantitative", "scale": {"domain": [0, 19.04], "nice": false, "zero": false}, "axis": null},
      "y": {"field": "y", "type": "quantitative", "scale": {"domain": [-1.985, 0.2], "nice": false, "zero": false},
       "axis": {"title": "Free energy(eV)", "values": [-1.8, -1.6, -1.4, -1.2, -1, -0.8, -0.6, -0.4, -0.2, 0, 0.2],
        "labelExpr": "abs(datum.value*2.5-round(datum.value*2.5))<0.01 ? replace(format(datum.value,'.1f'),'−','-') : ''",
        "tickSize": {"condition": {"test": "abs(datum.value*2.5-round(datum.value*2.5))<0.01", "value": 7}, "value": 4}}},
      "text": {"field": "t"}}},
    {"data": {"name": "notes"}, "transform": [{"filter": "datum.p==3 && datum.k=='pds'"}], "mark": {"type": "text", "color": "#ffffff"},
     "encoding": {"x": {"field": "x", "type": "quantitative", "scale": {"domain": [0, 19.04], "nice": false, "zero": false}, "axis": null},
      "y": {"field": "y", "type": "quantitative", "scale": {"domain": [-1.985, 0.2], "nice": false, "zero": false},
       "axis": {"title": "Free energy(eV)", "values": [-1.8, -1.6, -1.4, -1.2, -1, -0.8, -0.6, -0.4, -0.2, 0, 0.2],
        "labelExpr": "abs(datum.value*2.5-round(datum.value*2.5))<0.01 ? replace(format(datum.value,'.1f'),'−','-') : ''",
        "tickSize": {"condition": {"test": "abs(datum.value*2.5-round(datum.value*2.5))<0.01", "value": 7}, "value": 4}}},
      "text": {"field": "t"}}}
   ]},
  {"width": 990, "height": 347,
   "layer": [
    {"data": {"name": "bands"}, "transform": [{"filter": "datum.p==4"}], "mark": "rect",
     "encoding": {"x": {"field": "x0", "type": "quantitative", "scale": {"domain": [0, 19.04], "nice": false, "zero": false}, "axis": null}, "x2": {"field": "x1"},
      "color": {"field": "k", "type": "nominal", "scale": {"domain": ["blue", "grey"], "range": ["#93d9f4", "#d9dce2"]}, "legend": null}}},
    {"data": {"name": "grid"}, "mark": {"type": "rule", "color": "#8c8c8c", "strokeDash": [7, 4], "strokeWidth": 1.3},
     "encoding": {"x": {"field": "g", "type": "quantitative", "scale": {"domain": [0, 19.04], "nice": false, "zero": false}, "axis": null}}},
    {"data": {"name": "steps"}, "transform": [{"filter": "datum.p==4"}], "mark": {"type": "rule", "strokeDash": [4, 3], "strokeWidth": 1.3},
     "encoding": {"x": {"field": "xa", "type": "quantitative", "scale": {"domain": [0, 19.04], "nice": false, "zero": false}, "axis": null}, "x2": {"field": "xb"},
      "y": {"field": "ya", "type": "quantitative", "scale": {"domain": [-1.39, 0.5], "nice": false, "zero": false},
       "axis": {"title": "Free energy(eV)", "values": [-1.3, -1.2, -1.1, -1, -0.9, -0.8, -0.7, -0.6, -0.5, -0.4, -0.3, -0.2, -0.1, 0, 0.1, 0.2, 0.3, 0.4],
        "labelExpr": "abs(datum.value*5-round(datum.value*5))<0.01 ? replace(format(datum.value,'.1f'),'−','-') : ''",
        "tickSize": {"condition": {"test": "abs(datum.value*5-round(datum.value*5))<0.01", "value": 7}, "value": 4}}},
      "y2": {"field": "yb"},
      "stroke": {"field": "s", "type": "nominal", "scale": {"domain": ["gas", "solution", "none"], "range": ["#ff0000", "#0000ff", "#000000"]}, "legend": {"values": ["gas", "solution"], "title": null}}}},
    {"data": {"name": "levels"}, "transform": [{"filter": "datum.p==4"}], "mark": {"type": "rule", "strokeWidth": 3},
     "encoding": {"x": {"field": "x0", "type": "quantitative", "scale": {"domain": [0, 19.04], "nice": false, "zero": false}, "axis": null}, "x2": {"field": "x1"},
      "y": {"field": "y", "type": "quantitative", "scale": {"domain": [-1.39, 0.5], "nice": false, "zero": false},
       "axis": {"title": "Free energy(eV)", "values": [-1.3, -1.2, -1.1, -1, -0.9, -0.8, -0.7, -0.6, -0.5, -0.4, -0.3, -0.2, -0.1, 0, 0.1, 0.2, 0.3, 0.4],
        "labelExpr": "abs(datum.value*5-round(datum.value*5))<0.01 ? replace(format(datum.value,'.1f'),'−','-') : ''",
        "tickSize": {"condition": {"test": "abs(datum.value*5-round(datum.value*5))<0.01", "value": 7}, "value": 4}}},
      "stroke": {"field": "s", "type": "nominal", "scale": {"domain": ["gas", "solution", "none"], "range": ["#ff0000", "#0000ff", "#000000"]}, "legend": {"values": ["gas", "solution"], "title": null}}}},
    {"data": {"name": "labels"}, "transform": [{"filter": "datum.p==4"}], "mark": "text",
     "encoding": {"x": {"field": "x", "type": "quantitative", "scale": {"domain": [0, 19.04], "nice": false, "zero": false}, "axis": null},
      "y": {"field": "y", "type": "quantitative", "scale": {"domain": [-1.39, 0.5], "nice": false, "zero": false},
       "axis": {"title": "Free energy(eV)", "values": [-1.3, -1.2, -1.1, -1, -0.9, -0.8, -0.7, -0.6, -0.5, -0.4, -0.3, -0.2, -0.1, 0, 0.1, 0.2, 0.3, 0.4],
        "labelExpr": "abs(datum.value*5-round(datum.value*5))<0.01 ? replace(format(datum.value,'.1f'),'−','-') : ''",
        "tickSize": {"condition": {"test": "abs(datum.value*5-round(datum.value*5))<0.01", "value": 7}, "value": 4}}},
      "text": {"field": "t"},
      "fill": {"field": "s", "type": "nominal", "scale": {"domain": ["gas", "solution", "none"], "range": ["#ff0000", "#0000ff", "#000000"]}, "legend": null}}},
    {"data": {"name": "hx"}, "mark": "text",
     "encoding": {"x": {"field": "x", "type": "quantitative", "scale": {"domain": [0, 19.04], "nice": false, "zero": false}, "axis": null},
      "y": {"datum": -1.335, "type": "quantitative", "scale": {"domain": [-1.39, 0.5], "nice": false, "zero": false},
       "axis": {"title": "Free energy(eV)", "values": [-1.3, -1.2, -1.1, -1, -0.9, -0.8, -0.7, -0.6, -0.5, -0.4, -0.3, -0.2, -0.1, 0, 0.1, 0.2, 0.3, 0.4],
        "labelExpr": "abs(datum.value*5-round(datum.value*5))<0.01 ? replace(format(datum.value,'.1f'),'−','-') : ''",
        "tickSize": {"condition": {"test": "abs(datum.value*5-round(datum.value*5))<0.01", "value": 7}, "value": 4}}},
      "text": {"value": "H⁺+e⁻"}}},
    {"data": {"name": "notes"}, "transform": [{"filter": "datum.p==4 && datum.k=='title'"}], "mark": {"type": "text", "fontSize": 22},
     "encoding": {"x": {"field": "x", "type": "quantitative", "scale": {"domain": [0, 19.04], "nice": false, "zero": false}, "axis": null},
      "y": {"field": "y", "type": "quantitative", "scale": {"domain": [-1.39, 0.5], "nice": false, "zero": false},
       "axis": {"title": "Free energy(eV)", "values": [-1.3, -1.2, -1.1, -1, -0.9, -0.8, -0.7, -0.6, -0.5, -0.4, -0.3, -0.2, -0.1, 0, 0.1, 0.2, 0.3, 0.4],
        "labelExpr": "abs(datum.value*5-round(datum.value*5))<0.01 ? replace(format(datum.value,'.1f'),'−','-') : ''",
        "tickSize": {"condition": {"test": "abs(datum.value*5-round(datum.value*5))<0.01", "value": 7}, "value": 4}}},
      "text": {"field": "t"}}},
    {"data": {"name": "notes"}, "transform": [{"filter": "datum.p==4 && datum.k=='pds'"}], "mark": {"type": "text", "color": "#ffffff"},
     "encoding": {"x": {"field": "x", "type": "quantitative", "scale": {"domain": [0, 19.04], "nice": false, "zero": false}, "axis": null},
      "y": {"field": "y", "type": "quantitative", "scale": {"domain": [-1.39, 0.5], "nice": false, "zero": false},
       "axis": {"title": "Free energy(eV)", "values": [-1.3, -1.2, -1.1, -1, -0.9, -0.8, -0.7, -0.6, -0.5, -0.4, -0.3, -0.2, -0.1, 0, 0.1, 0.2, 0.3, 0.4],
        "labelExpr": "abs(datum.value*5-round(datum.value*5))<0.01 ? replace(format(datum.value,'.1f'),'−','-') : ''",
        "tickSize": {"condition": {"test": "abs(datum.value*5-round(datum.value*5))<0.01", "value": 7}, "value": 4}}},
      "text": {"field": "t"}}}
   ]}
 ]}
]
}
